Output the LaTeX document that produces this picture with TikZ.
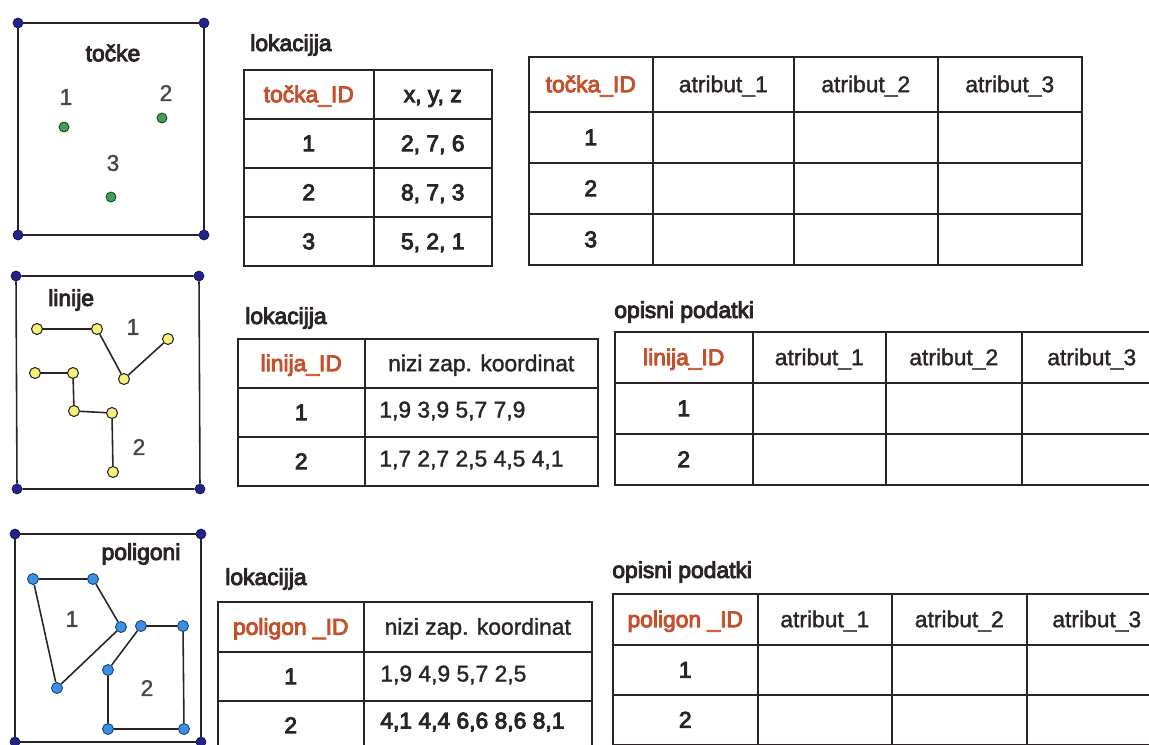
\documentclass[tikz,border=0pt]{standalone}
\usepackage{fontspec}
\setmainfont{Liberation Sans}[FakeBold=1.5]
\newfontfamily\semifont{Liberation Sans}[FakeBold=4]
\usepackage{tikz}
\usetikzlibrary{positioning}
\definecolor{gInk}{HTML}{2A2426}
\definecolor{gRust}{HTML}{C4502C}
\definecolor{gNavy}{HTML}{25238A}
\definecolor{gGreen}{HTML}{3F9F55}
\definecolor{gYellow}{HTML}{F5F07A}
\definecolor{gBlue}{HTML}{3A8FE6}
\tikzset{
  txt/.style   = {text=gInk, font=\fontsize{13}{15}\selectfont},
  cell/.style  = {txt, draw=gInk, line width=0.9pt, inner sep=0pt, anchor=north west,
                  text height=9pt, text depth=0pt},
  cellb/.style = {cell, font=\fontsize{13}{15}\selectfont\semifont},
  cellh/.style = {cellb, text=gRust},
  val/.style   = {txt, anchor=west, inner sep=0pt},
  ttl/.style   = {txt, anchor=west, inner sep=0pt, font=\fontsize{13}{15}\selectfont\semifont},
  ttlc/.style  = {ttl, anchor=center},
  num/.style   = {txt, inner sep=0pt, text=gInk!85},
  frm/.style   = {draw=gInk, line width=0.9pt},
  seg/.style   = {draw=gInk, line width=0.9pt},
  crn/.style   = {circle, fill=gNavy, draw=gNavy!60!black, inner sep=0pt, minimum size=0.2cm},
  ptg/.style   = {circle, fill=gGreen, draw=gGreen!45!black, line width=0.5pt, inner sep=0pt, minimum size=0.2cm},
  pty/.style   = {circle, fill=gYellow, draw=gInk, line width=0.6pt, inner sep=0pt, minimum size=0.22cm},
  ptb/.style   = {circle, fill=gBlue, draw=gBlue!45!black, line width=0.5pt, inner sep=0pt, minimum size=0.22cm},
}
\begin{document}
\begin{tikzpicture}[x=0.02cm, y=-0.02cm]
  \useasboundingbox (0,0) rectangle (1149,744);
  \clip (0,0) rectangle (1149,744);

  % tocke
  \node[crn] (a1) at (18,23) {};
  \node[crn] (a2) at (204,23) {};
  \node[crn] (a3) at (204,235) {};
  \node[crn] (a4) at (18,235) {};
  \draw[frm] (a1) -- (a2) -- (a3) -- (a4) -- (a1);
  \node[ttlc] (ta) at (113,53) {točke};
  \node[ptg] (p1) at (64,127) {};
  \node[ptg] (p2) at (162,118) {};
  \node[ptg] (p3) at (111,197) {};
  \node[num] (np1) at (66,97) {1};
  \node[num] (np2) at (166,93) {2};
  \node[num] (np3) at (113,163) {3};

  \node[ttl] (lA) at (250,45) {lokacijja};
  \node[cellh, minimum width=2.6cm, minimum height=0.98cm] (tA-h0) at (243,69) {točka\_ID};
  \node[cellb, minimum width=2.36cm, minimum height=0.98cm] (tA-h1) at (373,69) {x, y, z};
  \foreach \y/\v [count=\j] in {118/{2, 7, 6}, 167/{8, 7, 3}, 216/{5, 2, 1}} {
    \node[cellb, minimum width=2.6cm, minimum height=0.98cm] (tA-0\j) at (243,\y) {\j};
    \node[cellb, minimum width=2.36cm, minimum height=0.98cm] (tA-1\j) at (373,\y) {\v};
  }

  \node[cellh, minimum width=2.48cm, minimum height=1.1cm] (tB-h0) at (528,56) {točka\_ID};
  \foreach \y [count=\j] in {111,162,213}
    \node[cellb, minimum width=2.48cm, minimum height=1.02cm] (tB-0\j) at (528,\y) {\j};
  \foreach \x/\w [count=\i] in {652/2.82cm, 793/2.88cm, 937/2.88cm} {
    \node[cell, minimum width=\w, minimum height=1.1cm] (tB-h\i) at (\x,56) {atribut\_\i};
    \foreach \y [count=\j] in {111,162,213}
      \node[cell, minimum width=\w, minimum height=1.02cm] (tB-\i\j) at (\x,\y) {};
  }

  % linije
  \node[crn] (b1) at (16,276) {};
  \node[crn] (b2) at (199,276) {};
  \node[crn] (b3) at (200,489) {};
  \node[crn] (b4) at (17,489) {};
  \draw[frm] (b1) -- (b2) -- (b3) -- (b4) -- (b1);
  \node[ttl] (tb) at (48,300) {linije};
  \node[pty] (l1) at (37,329) {};
  \node[pty] (l2) at (97,329) {};
  \node[pty] (l3) at (124,379) {};
  \node[pty] (l4) at (168,339) {};
  \node[pty] (m1) at (35,373) {};
  \node[pty] (m2) at (73,373) {};
  \node[pty] (m3) at (74,411) {};
  \node[pty] (m4) at (112,413) {};
  \node[pty] (m5) at (113,472) {};
  \draw[seg] (l1) -- (l2) -- (l3) -- (l4);
  \draw[seg] (m1) -- (m2) -- (m3) -- (m4) -- (m5);
  \node[num] (nl1) at (133,327) {1};
  \node[num] (nl2) at (139,447) {2};

  \node[ttl] (lC) at (245,318) {lokacijja};
  \node[cellh, minimum width=2.54cm, minimum height=0.98cm] (tC-h0) at (237,338) {linija\_ID};
  \node[cell, minimum width=4.66cm, minimum height=0.98cm] (tC-h1) at (364,338) {nizi zap. koordinat};
  \foreach \y [count=\j] in {387,436} {
    \node[cellb, minimum width=2.54cm, minimum height=0.98cm] (tC-0\j) at (237,\y) {\j};
    \node[cell, minimum width=4.66cm, minimum height=0.98cm] (tC-1\j) at (364,\y) {};
  }
  \node[val] (vC1) at (379,411) {1,9 3,9 5,7 7,9};
  \node[val] (vC2) at (379,460) {1,7 2,7 2,5 4,5 4,1};

  \node[ttl] (lD) at (614,312) {opisni podatki};
  \node[cellh, minimum width=2.76cm, minimum height=1.02cm] (tD-h0) at (614,331) {linija\_ID};
  \foreach \y [count=\j] in {382,433}
    \node[cellb, minimum width=2.76cm, minimum height=1.02cm] (tD-0\j) at (614,\y) {\j};
  \foreach \x/\w [count=\i] in {752/2.66cm, 885/2.72cm, 1021/2.8cm} {
    \node[cell, minimum width=\w, minimum height=1.02cm] (tD-h\i) at (\x,331) {atribut\_\i};
    \foreach \y [count=\j] in {382,433}
      \node[cell, minimum width=\w, minimum height=1.02cm] (tD-\i\j) at (\x,\y) {};
  }

  % poligoni
  \node[crn] (c1) at (15,534) {};
  \node[crn] (c2) at (201,534) {};
  \node[crn] (c3) at (201,742) {};
  \node[crn] (c4) at (15,742) {};
  \draw[frm] (c1) -- (c2) -- (c3) -- (c4) -- (c1);
  \node[ttlc] (tc) at (141,554) {poligoni};
  \node[ptb] (q1) at (33,579) {};
  \node[ptb] (q2) at (93,579) {};
  \node[ptb] (q3) at (121,627) {};
  \node[ptb] (q4) at (57,688) {};
  \node[ptb] (r1) at (108,729) {};
  \node[ptb] (r2) at (108,670) {};
  \node[ptb] (r3) at (141,626) {};
  \node[ptb] (r4) at (183,626) {};
  \node[ptb] (r5) at (184,729) {};
  \draw[seg] (q1) -- (q2) -- (q3) -- (q4) -- (q1);
  \draw[seg] (r1) -- (r2) -- (r3) -- (r4) -- (r5) -- (r1);
  \node[num] (nq1) at (72,619) {1};
  \node[num] (nq2) at (147,688) {2};

  \node[ttl] (lE) at (225,579) {lokacijja};
  \node[cellh, minimum width=2.92cm, minimum height=1cm] (tE-h0) at (217,601) {poligon \_ID};
  \node[cell, minimum width=4.56cm, minimum height=1cm] (tE-h1) at (363,601) {nizi zap. koordinat};
  \foreach \y [count=\j] in {651,700} {
    \node[cellb, minimum width=2.92cm, minimum height=0.98cm] (tE-0\j) at (217,\y) {\j};
    \node[cell, minimum width=4.56cm, minimum height=0.98cm] (tE-1\j) at (363,\y) {};
  }
  \node[val] (vE1) at (380,675) {1,9 4,9 5,7 2,5};
  \node[val, font=\fontsize{13}{15}\selectfont\semifont] (vE2) at (380,722) {4,1 4,4 6,6 8,6 8,1};

  \node[ttl] (lF) at (612,572) {opisni podatki};
  \node[cellh, minimum width=2.9cm, minimum height=1.02cm] (tF-h0) at (612,593) {poligon \_ID};
  \foreach \y [count=\j] in {644,694}
    \node[cellb, minimum width=2.9cm, minimum height=1cm] (tF-0\j) at (612,\y) {\j};
  \foreach \x/\w [count=\i] in {757/2.68cm, 891/2.7cm, 1026/2.8cm} {
    \node[cell, minimum width=\w, minimum height=1.02cm] (tF-h\i) at (\x,593) {atribut\_\i};
    \foreach \y [count=\j] in {644,694}
      \node[cell, minimum width=\w, minimum height=1cm] (tF-\i\j) at (\x,\y) {};
  }
\end{tikzpicture}
\end{document}
